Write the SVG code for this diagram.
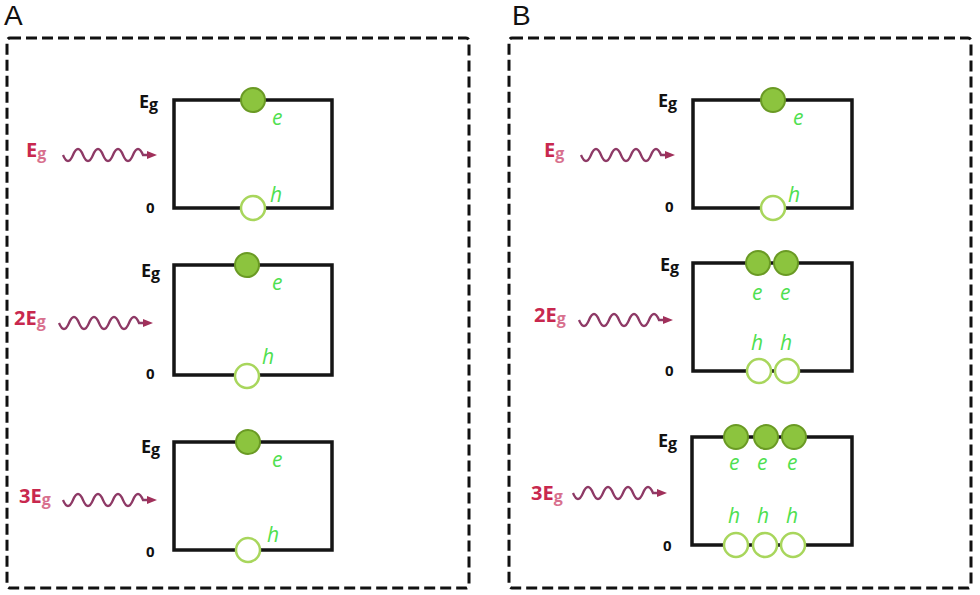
<svg xmlns="http://www.w3.org/2000/svg" width="980" height="595" viewBox="0 0 980 595">
<style>
.panel{fill:none;stroke:#111;stroke-width:3;stroke-dasharray:11 5}
.box{fill:none;stroke:#151515;stroke-width:3.5}
.el{fill:#8cc43e;stroke:#6a9a24;stroke-width:2}
.ho{fill:#fff;stroke:#a8d65c;stroke-width:2.5}
.lab{font-family:"Open Sans","Liberation Sans",sans-serif;font-style:italic;font-size:21px;fill:#4fe04f}
.blk{font-family:"Open Sans","Liberation Sans",sans-serif;font-weight:bold;font-size:18px;fill:#111}
.zero{font-family:"Open Sans","Liberation Sans",sans-serif;font-weight:bold;font-size:15px;fill:#111}
.red{font-family:"Open Sans","Liberation Sans",sans-serif;font-weight:bold;font-size:20px;fill:#c8284e}
.sub{fill:#d8708e}
.wave{fill:none;stroke:#8e3a66;stroke-width:2.3;marker-end:url(#ah)}
.pl{font-family:"Liberation Sans",Arial,sans-serif;font-size:28px;fill:#111}
</style>
<defs>
<marker id="ah" markerUnits="userSpaceOnUse" markerWidth="12" markerHeight="10" refX="2" refY="4" orient="auto">
<path d="M0,0 L10,4 L0,8 z" fill="#a0305a"/>
</marker>
</defs>

<g id="panelA">
<text class="pl" x="4" y="25">A</text>
<rect class="panel" x="7" y="38" width="462" height="550" rx="3"/>
</g>
<g id="panelB">
<text class="pl" x="512" y="25">B</text>
<rect class="panel" x="509" y="38" width="462" height="550" rx="3"/>
</g>

<g id="connectors">
<path class="wave" d="M63,155 q5,12 10,0 t10,0 t10,0 t10,0 t10,0 t10,0 t10,0 t10,0 h6"/>
<path class="wave" d="M59,323 q5,12 10,0 t10,0 t10,0 t10,0 t10,0 t10,0 t10,0 t10,0 h6"/>
<path class="wave" d="M63,500 q5,12 10,0 t10,0 t10,0 t10,0 t10,0 t10,0 t10,0 t10,0 h6"/>
<path class="wave" d="M581,155 q5,12 10,0 t10,0 t10,0 t10,0 t10,0 t10,0 t10,0 t10,0 h6"/>
<path class="wave" d="M579,320 q5,12 10,0 t10,0 t10,0 t10,0 t10,0 t10,0 t10,0 t10,0 h6"/>
<path class="wave" d="M573,493 q5,12 10,0 t10,0 t10,0 t10,0 t10,0 t10,0 t10,0 t10,0 h6"/>
</g>

<g id="A1">
<text class="red" x="26" y="157">E<tspan class="sub" font-size="16" dy="2">g</tspan></text>
<rect class="box" x="174" y="100" width="158" height="108"/>
<text class="blk" x="139" y="108">E<tspan font-size="16" dy="2">g</tspan></text>
<text class="zero" x="146" y="213">0</text>
<circle class="el" cx="253" cy="100" r="12"/>
<circle class="ho" cx="253" cy="208" r="12"/>
<text class="lab" x="272" y="125">e</text>
<text class="lab" x="270" y="202">h</text>
</g>

<g id="A2">
<text class="red" x="14" y="325">2E<tspan class="sub" font-size="16" dy="2">g</tspan></text>
<rect class="box" x="174" y="265" width="158" height="110"/>
<text class="blk" x="141" y="277">E<tspan font-size="16" dy="2">g</tspan></text>
<text class="zero" x="146" y="379">0</text>
<circle class="el" cx="247" cy="265" r="12"/>
<circle class="ho" cx="247" cy="376" r="12"/>
<text class="lab" x="272" y="290">e</text>
<text class="lab" x="262" y="364">h</text>
</g>

<g id="A3">
<text class="red" x="19" y="503">3E<tspan class="sub" font-size="16" dy="2">g</tspan></text>
<rect class="box" x="174" y="442" width="158" height="108"/>
<text class="blk" x="141" y="453">E<tspan font-size="16" dy="2">g</tspan></text>
<text class="zero" x="146" y="557">0</text>
<circle class="el" cx="248" cy="442" r="12"/>
<circle class="ho" cx="248" cy="550" r="12"/>
<text class="lab" x="272" y="467">e</text>
<text class="lab" x="267" y="542">h</text>
</g>

<g id="B1">
<text class="red" x="544" y="157">E<tspan class="sub" font-size="16" dy="2">g</tspan></text>
<rect class="box" x="693" y="100" width="159" height="108"/>
<text class="blk" x="658" y="107">E<tspan font-size="16" dy="2">g</tspan></text>
<text class="zero" x="665" y="212">0</text>
<circle class="el" cx="773" cy="100" r="12"/>
<circle class="ho" cx="773" cy="208" r="12"/>
<text class="lab" x="793" y="125">e</text>
<text class="lab" x="788" y="202">h</text>
</g>

<g id="B2">
<text class="red" x="534" y="322">2E<tspan class="sub" font-size="16" dy="2">g</tspan></text>
<rect class="box" x="693" y="263" width="159" height="108"/>
<text class="blk" x="660" y="271">E<tspan font-size="16" dy="2">g</tspan></text>
<text class="zero" x="665" y="376">0</text>
<circle class="el" cx="758" cy="263" r="12"/>
<circle class="el" cx="786" cy="263" r="12"/>
<circle class="ho" cx="759" cy="371" r="12"/>
<circle class="ho" cx="787" cy="371" r="12"/>
<text class="lab" x="752" y="300">e</text>
<text class="lab" x="780" y="300">e</text>
<text class="lab" x="751" y="350">h</text>
<text class="lab" x="780" y="350">h</text>
</g>

<g id="B3">
<text class="red" x="531" y="500">3E<tspan class="sub" font-size="16" dy="2">g</tspan></text>
<rect class="box" x="692" y="437" width="160" height="108"/>
<text class="blk" x="658" y="447">E<tspan font-size="16" dy="2">g</tspan></text>
<text class="zero" x="663" y="551">0</text>
<circle class="el" cx="736" cy="437" r="12"/>
<circle class="el" cx="766" cy="437" r="12"/>
<circle class="el" cx="794" cy="437" r="12"/>
<circle class="ho" cx="736" cy="545" r="12"/>
<circle class="ho" cx="765" cy="545" r="12"/>
<circle class="ho" cx="793" cy="545" r="12"/>
<text class="lab" x="729" y="470">e</text>
<text class="lab" x="757" y="470">e</text>
<text class="lab" x="787" y="470">e</text>
<text class="lab" x="728" y="523">h</text>
<text class="lab" x="757" y="523">h</text>
<text class="lab" x="786" y="523">h</text>
</g>
</svg>
